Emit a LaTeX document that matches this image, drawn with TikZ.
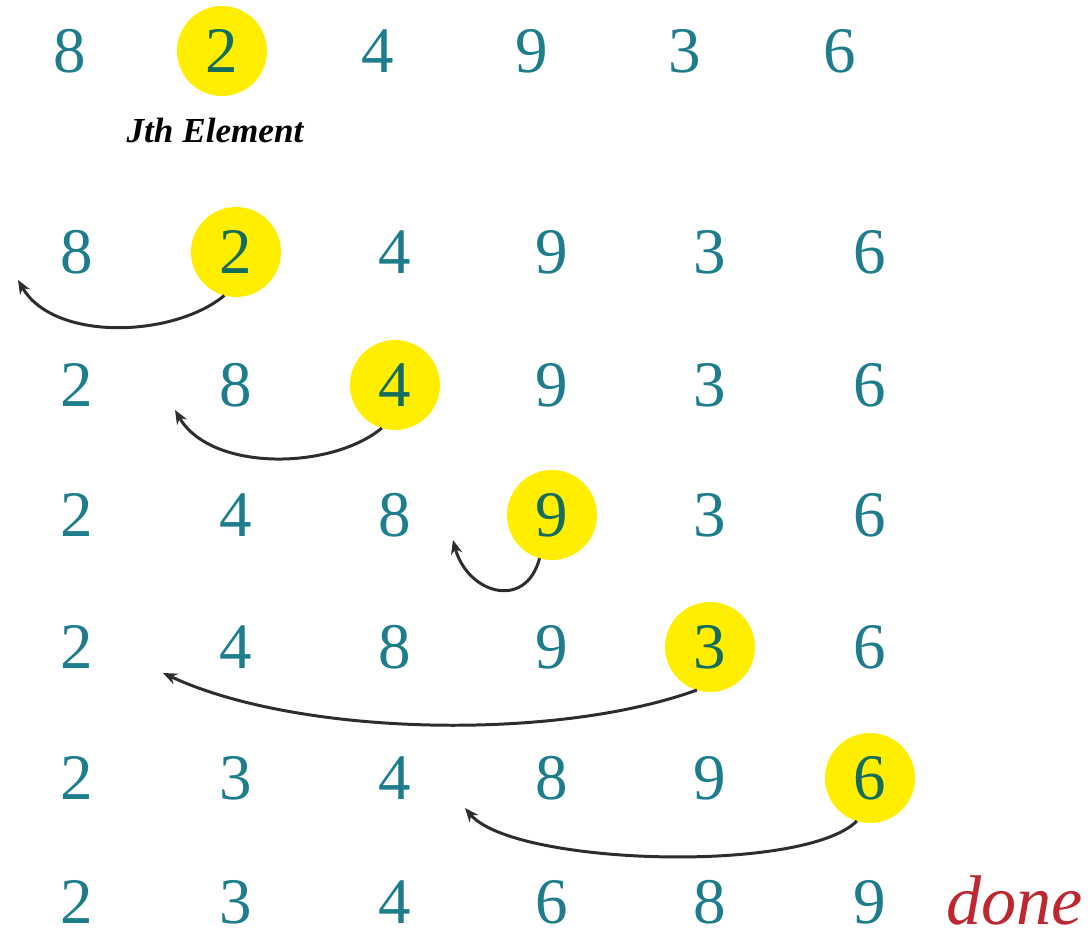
\documentclass[tikz,border=0pt]{standalone}
\usepackage{fontspec}
\setmainfont{Liberation Serif}
\usetikzlibrary{arrows.meta}
\definecolor{bleuchiffre}{RGB}{30,125,140}
\definecolor{vertchiffre}{RGB}{20,108,92}
\definecolor{jaune}{RGB}{255,238,0}
\definecolor{rougefin}{RGB}{190,38,48}
\definecolor{grisfleche}{RGB}{45,45,45}
\begin{document}
\begin{tikzpicture}[x=0.02cm,y=0.02cm]
			% Styles
			\tikzstyle{chiffre}=[text=bleuchiffre,inner sep=0pt,font=\fontsize{37}{40}\selectfont]
			\tikzstyle{pivot}=[circle,fill=jaune,text=vertchiffre,minimum size=1.8cm,inner sep=0pt,outer sep=0pt,font=\fontsize{37}{40}\selectfont]
			\tikzstyle{fleche}=[-{Stealth[length=8pt,width=6.5pt]},line width=1.7pt,grisfleche]
			\tikzstyle{commentaire}=[black,font=\fontsize{20}{22}\selectfont\bfseries\itshape]
			\tikzstyle{fin}=[rougefin,inner sep=0pt,font=\fontsize{40}{44}\selectfont\itshape]
			% Cadre
			\useasboundingbox (0,0) rectangle (1091,933);
			% Colonnes
			\def\HautA{70}
			\def\HautB{222}
			\def\HautC{378}
			\def\HautD{532}
			\def\HautE{685}
			\def\HautF{840}
			\def\ColA{77}
			\def\ColB{236}
			\def\ColC{395}
			\def\ColD{552}
			\def\ColE{710}
			\def\ColF{870}
			% Lignes
			\def\LigneA{882}
			\def\LigneB{681}
			\def\LigneC{548}
			\def\LigneD{418}
			\def\LigneE{286}
			\def\LigneF{155}
			\def\LigneG{31}
			% Noeuds
			\node[chiffre] (Aa) at ({\HautA},{\LigneA}) {8};
			\node[pivot] (Ab) at ({\HautB},{\LigneA}) {2};
			\node[chiffre] (Ac) at ({\HautC},{\LigneA}) {4};
			\node[chiffre] (Ad) at ({\HautD},{\LigneA}) {9};
			\node[chiffre] (Ae) at ({\HautE},{\LigneA}) {3};
			\node[chiffre] (Af) at ({\HautF},{\LigneA}) {6};
			\node[commentaire] (J) at (215,803) {Jth Element};
			%
			\node[chiffre] (Ba) at ({\ColA},{\LigneB}) {8};
			\node[pivot] (Bb) at ({\ColB},{\LigneB}) {2};
			\node[chiffre] (Bc) at ({\ColC},{\LigneB}) {4};
			\node[chiffre] (Bd) at ({\ColD},{\LigneB}) {9};
			\node[chiffre] (Be) at ({\ColE},{\LigneB}) {3};
			\node[chiffre] (Bf) at ({\ColF},{\LigneB}) {6};
			%
			\node[chiffre] (Ca) at ({\ColA},{\LigneC}) {2};
			\node[chiffre] (Cb) at ({\ColB},{\LigneC}) {8};
			\node[pivot] (Cc) at ({\ColC},{\LigneC}) {4};
			\node[chiffre] (Cd) at ({\ColD},{\LigneC}) {9};
			\node[chiffre] (Ce) at ({\ColE},{\LigneC}) {3};
			\node[chiffre] (Cf) at ({\ColF},{\LigneC}) {6};
			%
			\node[chiffre] (Da) at ({\ColA},{\LigneD}) {2};
			\node[chiffre] (Db) at ({\ColB},{\LigneD}) {4};
			\node[chiffre] (Dc) at ({\ColC},{\LigneD}) {8};
			\node[pivot] (Dd) at ({\ColD},{\LigneD}) {9};
			\node[chiffre] (De) at ({\ColE},{\LigneD}) {3};
			\node[chiffre] (Df) at ({\ColF},{\LigneD}) {6};
			%
			\node[chiffre] (Ea) at ({\ColA},{\LigneE}) {2};
			\node[chiffre] (Eb) at ({\ColB},{\LigneE}) {4};
			\node[chiffre] (Ec) at ({\ColC},{\LigneE}) {8};
			\node[chiffre] (Ed) at ({\ColD},{\LigneE}) {9};
			\node[pivot] (Ee) at ({\ColE},{\LigneE}) {3};
			\node[chiffre] (Ef) at ({\ColF},{\LigneE}) {6};
			%
			\node[chiffre] (Fa) at ({\ColA},{\LigneF}) {2};
			\node[chiffre] (Fb) at ({\ColB},{\LigneF}) {3};
			\node[chiffre] (Fc) at ({\ColC},{\LigneF}) {4};
			\node[chiffre] (Fd) at ({\ColD},{\LigneF}) {8};
			\node[chiffre] (Fe) at ({\ColE},{\LigneF}) {9};
			\node[pivot] (Ff) at ({\ColF},{\LigneF}) {6};
			%
			\node[chiffre] (Ga) at ({\ColA},{\LigneG}) {2};
			\node[chiffre] (Gb) at ({\ColB},{\LigneG}) {3};
			\node[chiffre] (Gc) at ({\ColC},{\LigneG}) {4};
			\node[chiffre] (Gd) at ({\ColD},{\LigneG}) {6};
			\node[chiffre] (Ge) at ({\ColE},{\LigneG}) {8};
			\node[chiffre] (Gf) at ({\ColF},{\LigneG}) {9};
			\node[fin,anchor=base west] (done) at (946,9) {done};
			% Bouts des fleches
			\coordinate (bB) at (18,653);
			\coordinate (bC) at (175,523);
			\coordinate (bD) at (453,393);
			\coordinate (bE) at (163,260);
			\coordinate (bF) at (465,125);
			% Fleches
			\draw[fleche] (Bb.-105) .. controls +(-140:65) and +(-60:72) .. (bB);
			\draw[fleche] (Cc.-107) .. controls +(-140:65) and +(-60:72) .. (bC);
			\draw[fleche] (Dd.-106) .. controls +(-105:55) and +(-75:55) .. (bD);
			\draw[fleche] (Ee.-107) .. controls +(-160:150) and +(-25:150) .. (bE);
			\draw[fleche] (Ff.-107) .. controls +(-135:75) and +(-50:75) .. (bF);
		\end{tikzpicture}
\end{document}
